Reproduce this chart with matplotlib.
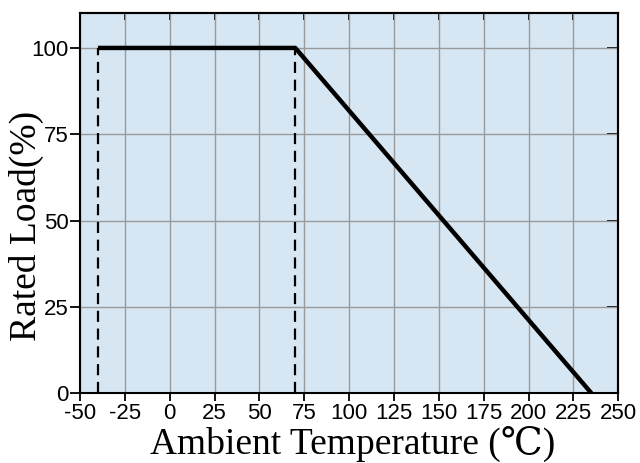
import matplotlib
matplotlib.use("Agg")
import matplotlib.pyplot as plt

plt.rcParams["axes.unicode_minus"] = False

# Data
temps = [-40, 70, 235]
load = [100, 100, 0]
dash_x = [-40, 70]
x_ticks = [-50, -25, 0, 25, 50, 75, 100, 125, 150, 175, 200, 225, 250]
y_ticks = [0, 25, 50, 75, 100]

tick_font = "Liberation Sans"
label_fonts = ["Liberation Serif", "DejaVu Serif", "Noto Sans CJK SC", "DejaVu Sans"]

fig = plt.figure(figsize=(6.4, 4.63), dpi=100)
ax = fig.add_axes([0.125, 0.151, 0.841, 0.820])
ax.set_facecolor("#d6e6f3")

ax.set_xlim(-50, 250)
ax.set_ylim(0, 110)
ax.set_xticks(x_ticks)
ax.set_yticks(y_ticks)
ax.grid(True, color="#9a9a9a", linewidth=1.0)
ax.set_axisbelow(True)

for xd in dash_x:
    ax.plot([xd, xd], [0, 100], color="black", linewidth=1.6, linestyle=(0, (5, 3)), zorder=3)
ax.plot(temps, load, color="black", linewidth=3.2, solid_capstyle="butt", zorder=4)

for s in ax.spines.values():
    s.set_linewidth(1.5)
    s.set_color("black")

ax.tick_params(axis="x", which="both", bottom=True, top=False, direction="out",
               length=6, width=1.3, labelsize=16, pad=1)
ax.tick_params(axis="y", which="both", left=True, right=False, direction="out",
               length=7, width=1.3, labelsize=16, pad=1)
sec_x = ax.secondary_xaxis("top")
sec_x.set_xticks(x_ticks)
sec_x.tick_params(direction="in", length=5, width=1.3, labeltop=False)
sec_y = ax.secondary_yaxis("right")
sec_y.set_yticks(y_ticks)
sec_y.tick_params(direction="in", length=8, width=1.3, labelright=False)
for s in list(sec_x.spines.values()) + list(sec_y.spines.values()):
    s.set_linewidth(1.5)

for lab in ax.get_xticklabels() + ax.get_yticklabels():
    lab.set_fontfamily(tick_font)

xl = ax.set_xlabel("Ambient Temperature (℃)", fontsize=27, family=label_fonts)
xl.set_va("baseline")
ax.xaxis.set_label_coords(0.506, -0.16)
yl = ax.set_ylabel("Rated Load(%)", fontsize=27, family=label_fonts)
yl.set_va("baseline")
ax.yaxis.set_label_coords(-0.082, 0.44)

fig.savefig("out.png", dpi=100)
